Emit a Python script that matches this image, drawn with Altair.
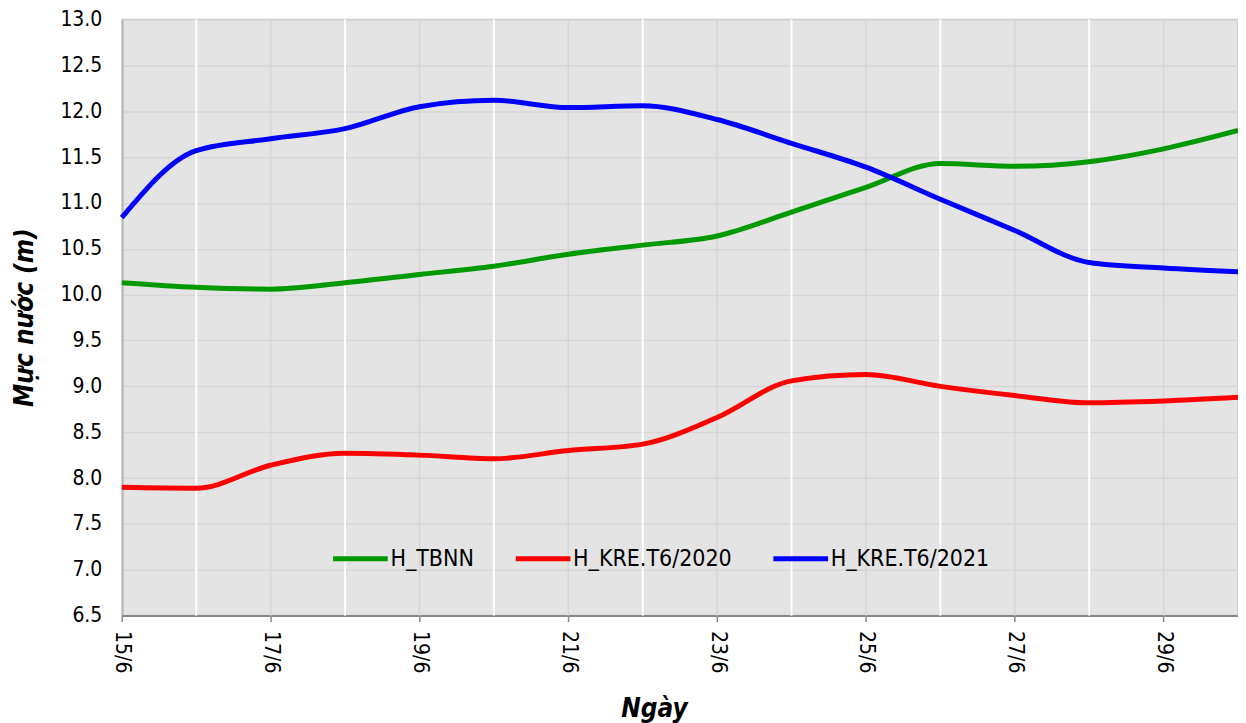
import altair as alt
import pandas as pd

days = list(range(15, 31))
h_tbnn = [10.13, 10.08, 10.06, 10.13, 10.22, 10.31, 10.44, 10.54, 10.64, 10.90, 11.17, 11.43, 11.40, 11.45, 11.59, 11.79]
h_2020 = [7.90, 7.89, 8.14, 8.27, 8.25, 8.21, 8.30, 8.37, 8.66, 9.06, 9.13, 9.00, 8.90, 8.82, 8.84, 8.88]
h_2021 = [10.84, 11.57, 11.70, 11.81, 12.05, 12.12, 12.04, 12.06, 11.91, 11.65, 11.39, 11.04, 10.70, 10.35, 10.29, 10.25]
series_names = ["H_TBNN", "H_KRE.T6/2020", "H_KRE.T6/2021"]
series_colors = ["#009900", "#ff0000", "#0000ff"]
label_days = [15, 17, 19, 21, 23, 25, 27, 29]
white_grid_days = [16, 18, 20, 22, 24, 26, 28]
y_ticks = [6.5 + 0.5 * i for i in range(14)]

rows = []
for name, vals in zip(series_names, [h_tbnn, h_2020, h_2021]):
    for d, v in zip(days, vals):
        rows.append({"day": d, "value": v, "series": name})
df = pd.DataFrame(rows)

FONT = "DejaVu Sans Condensed"

x_scale = alt.Scale(domain=[15, 30], nice=False, zero=False)
y_scale = alt.Scale(domain=[6.5, 13.0], nice=False, zero=False)

x_axis = alt.Axis(values=label_days, labelExpr="datum.value + '/6'", title="Ngày",
                  labelFontSize=21, labelFont=FONT)
y_axis = alt.Axis(values=y_ticks, format=".1f", title="Mực nước (m)",
                  labelFontSize=21, labelFont=FONT)

gray_grid = alt.Chart(pd.DataFrame({"day": days})).mark_rule(color="#d6d6d6", strokeWidth=1.5).encode(
    x=alt.X("day:Q", scale=x_scale, axis=x_axis)
)
white_grid = alt.Chart(pd.DataFrame({"day": white_grid_days})).mark_rule(color="#ffffff", strokeWidth=2).encode(
    x=alt.X("day:Q", scale=x_scale, axis=x_axis)
)

lines = alt.Chart(df).mark_line(strokeWidth=5, interpolate="monotone").encode(
    x=alt.X("day:Q", scale=x_scale, axis=x_axis),
    y=alt.Y("value:Q", scale=y_scale, axis=y_axis),
    color=alt.Color("series:N", scale=alt.Scale(domain=series_names, range=series_colors),
                    legend=alt.Legend(orient="none", legendX=209, legendY=510, direction="horizontal",
                                      title=None, symbolType="stroke", symbolSize=3000,
                                      symbolStrokeWidth=5, labelFont=FONT,
                                      labelFontSize=23, labelColor="#000", labelOffset=0,
                                      columnPadding=31, symbolOffset=0)),
)

chart = alt.layer(gray_grid, white_grid, lines).properties(
    width=1118, height=597,
    autosize=alt.AutoSizeParams(type="none"),
    padding={"left": 114, "top": 11, "right": 0, "bottom": 110},
).configure_view(
    fill="#e4e4e4", stroke="#bbbbbb", strokeWidth=1.5
).configure_axisX(
    labelAngle=90, labelAlign="left", labelBaseline="middle", labelPadding=9,
    labelColor="#000",
    tickColor="#888", tickSize=6, tickWidth=1.5,
    domainColor="#888", domainWidth=2, grid=False,
    titleFont=FONT, titleFontSize=26, titleFontWeight="bold", titleFontStyle="italic",
    titleColor="#000", titleX=533, titleY=101, titleBaseline="alphabetic", titleAnchor="middle",
).configure_axisY(
    ticks=False, labelPadding=20,
    labelColor="#000",
    domainColor="#888", domainWidth=2,
    grid=True, gridColor="#d6d6d6", gridWidth=1.5,
    titleFont=FONT, titleFontSize=26, titleFontWeight="bold", titleFontStyle="italic",
    titleColor="#000", titleX=-97, titleY=298, titleAngle=-90, titleAlign="center",
    titleBaseline="middle",
)

chart.save("out.html", embed_options={"renderer": "svg", "actions": False})
